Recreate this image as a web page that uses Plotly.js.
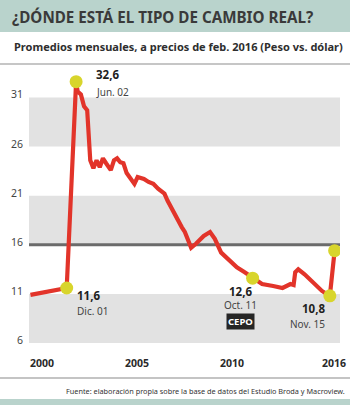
<!DOCTYPE html>
<html>
<head>
<meta charset="utf-8">
<script src="https://cdn.plot.ly/plotly-3.0.1.min.js"></script>
<style>
  html, body { margin: 0; padding: 0; background: #fff; }
  #chart { width: 350px; height: 405px; }
  #chart text { font-stretch: condensed !important; }
</style>
</head>
<body>
<div id="chart"></div>
<script>
// ---- data (monthly averages, Feb-2016 prices, peso vs dollar) ----
const dates = ['2000-01','2001-01','2001-12','2002-06','2002-07','2002-09','2002-11','2003-01','2003-02','2003-03',
  '2003-05','2003-06','2003-07','2003-09','2003-11','2004-01','2004-04','2004-06','2004-08','2004-10',
  '2004-12','2005-02','2005-05','2005-07','2005-09','2006-01','2006-04','2006-07','2006-10','2007-02',
  '2007-04','2007-08','2007-10','2008-01','2008-03','2008-05','2008-07','2008-10','2009-03','2009-07',
  '2009-10','2010-02','2010-07','2010-12','2011-05','2011-10','2012-04','2012-11','2013-05','2013-10',
  '2013-12','2014-01','2014-03','2014-07','2015-01','2015-06','2015-11','2016-02'];
const rer = [10.9,11.3,11.6,32.6,31.6,31.3,30.1,29.7,27.0,24.6,
  23.8,24.3,24.6,23.9,24.8,24.3,23.6,24.6,24.8,24.4,
  24.3,23.3,22.7,22.2,22.9,22.7,22.4,22.2,21.7,21.2,
  20.5,19.3,18.5,17.8,17.3,16.4,15.7,16.1,16.9,17.3,
  16.6,15.2,14.4,13.7,13.2,12.6,12.0,11.8,11.6,12.0,
  11.9,13.2,13.5,13.0,12.0,11.3,10.8,15.4];

const highlightDates = ['2001-12','2002-06','2011-10','2015-11','2016-02'];
const highlightDateLabels = ['Dic. 01','Jun. 02','Oct. 11','Nov. 15',''];
const cepoLabel = 'CEPO';

const yTickVals = [6, 11, 16, 21, 26, 31];
const yTickText = ['6', '11', '16', '21', '26', '31'];
const xTickVals = ['2000-01-01', '2005-01-01', '2010-01-01', '2016-01-01'];
const xTickText = ['2000', '2005', '2010', '2016'];
const referenceLevel = 16;
const bandRanges = [[6, 11], [16, 21], [26, 31]];

const titleText = '¿DÓNDE ESTÁ EL TIPO DE CAMBIO REAL?';
const subtitleText = 'Promedios mensuales, a precios de feb. 2016 (Peso vs. dólar)';
const sourceText = 'Fuente: elaboración propia sobre la base de datos del Estudio Broda y Macroview.';

// ---- layout helpers ----
const W = 350, H = 405, L = 29, R = 10, T = 66, B = 62;
const pw = W - L - R, ph = H - T - B;
const fx = px => (px - L) / pw;
const fy = py => (H - B - py) / ph;

const NARROW = '"Noto Sans", "DejaVu Sans Condensed", sans-serif';
const RED = '#e2342a', YELLOW = '#d8d52c', TEAL = '#b9d3cc';

const hlValues = highlightDates.map(d => rer[dates.indexOf(d)]);
const fmt = v => v.toFixed(1).replace('.', ',');

const traces = [
  { x: dates, y: rer, type: 'scatter', mode: 'lines',
    line: { color: RED, width: 4.2, shape: 'linear' }, hoverinfo: 'skip' },
  { x: highlightDates, y: hlValues, type: 'scatter', mode: 'markers',
    marker: { color: YELLOW, size: 13, line: { width: 0 } }, hoverinfo: 'skip' }
];

const shapes = [];
bandRanges.forEach(b => shapes.push({ type: 'rect', xref: 'paper', yref: 'y', x0: 0, x1: 1, y0: b[0], y1: b[1],
  fillcolor: '#e2e2e2', line: { width: 0 }, layer: 'below' }));
shapes.push({ type: 'line', xref: 'paper', yref: 'y', x0: 0, x1: 1, y0: referenceLevel, y1: referenceLevel,
  line: { color: '#6b6b6b', width: 3 }, layer: 'below' });
shapes.push({ type: 'rect', xref: 'paper', yref: 'paper', x0: fx(0), x1: fx(W), y0: fy(32), y1: fy(0),
  fillcolor: TEAL, line: { width: 0 } });
shapes.push({ type: 'line', xref: 'paper', yref: 'paper', x0: fx(0), x1: fx(W), y0: fy(64), y1: fy(64),
  line: { color: '#b3b3b3', width: 1.5 } });
shapes.push({ type: 'line', xref: 'paper', yref: 'paper', x0: fx(0), x1: fx(W), y0: fy(378), y1: fy(378),
  line: { color: '#c4c4c4', width: 2 } });
shapes.push({ type: 'rect', xref: 'paper', yref: 'paper', x0: fx(0), x1: fx(W), y0: fy(H), y1: fy(399),
  fillcolor: TEAL, line: { width: 0 } });

const annotations = [];
// y tick labels (placed through the y scale, nudged slightly above their level)
yTickVals.forEach((v, i) => {
  annotations.push({ x: fx(25), y: v, xref: 'paper', yref: 'y', text: yTickText[i],
    showarrow: false, xanchor: 'right', yanchor: 'middle', yshift: 3,
    font: { family: NARROW, size: 10.5, color: '#444' } });
});
// x tick labels
xTickVals.forEach((v, i) => {
  const last = i === xTickVals.length - 1;
  annotations.push({ x: v, y: fy(363), xref: 'x', yref: 'paper', text: '<b>' + xTickText[i] + '</b>',
    showarrow: false, xanchor: last ? 'center' : 'left', yanchor: 'middle', xshift: last ? 1 : -2,
    font: { family: NARROW, size: 10.5, color: '#2a2a2a' } });
});
annotations.push({ x: fx(12), y: fy(46), xref: 'paper', yref: 'paper', text: '<b>' + subtitleText + '</b>',
  showarrow: false, xanchor: 'left', yanchor: 'middle', font: { family: NARROW, size: 11, color: '#2e2e2e' } });
annotations.push({ x: fx(347), y: fy(391), xref: 'paper', yref: 'paper', text: sourceText,
  showarrow: false, xanchor: 'right', yanchor: 'middle', font: { family: NARROW, size: 7.3, color: '#333' } });

// [xanchor, xshift, value yshift, date yshift]
const labelStyle = [
  ['left', 8, -8, -23],
  ['left', 18, 7, -10],
  ['center', -12, -13, -27],
  ['right', -3, -13, -28]
];
highlightDateLabels.forEach((lab, i) => {
  if (!lab) return;
  const s = labelStyle[i];
  annotations.push({ x: highlightDates[i], y: hlValues[i], xref: 'x', yref: 'y', text: '<b>' + fmt(hlValues[i]) + '</b>',
    showarrow: false, xanchor: s[0], yanchor: 'middle', xshift: s[1], yshift: s[2],
    font: { family: NARROW, size: 11.5, color: '#1e1e1e' } });
  annotations.push({ x: highlightDates[i], y: hlValues[i], xref: 'x', yref: 'y', text: lab,
    showarrow: false, xanchor: s[0], yanchor: 'middle', xshift: s[1], yshift: s[3],
    font: { family: NARROW, size: 10, color: '#444' } });
});
{
  const i = 2;
  annotations.push({ x: highlightDates[i], y: hlValues[i], xref: 'x', yref: 'y', text: '<b>' + cepoLabel + '</b>',
    showarrow: false, xanchor: 'center', yanchor: 'middle', xshift: -12, yshift: -43,
    bgcolor: '#262626', borderpad: 1, font: { family: NARROW, size: 9.5, color: '#ffffff' } });
}

const layout = {
  width: W, height: H,
  margin: { l: L, r: R, t: T, b: B, pad: 0 },
  paper_bgcolor: '#ffffff', plot_bgcolor: '#ffffff',
  showlegend: false,
  title: { text: '<b>' + titleText + '</b>', x: 12 / W, xanchor: 'left', xref: 'container',
    y: 1 - 18 / H, yanchor: 'middle', yref: 'container',
    font: { family: NARROW, size: 15.2, color: '#3a3a3a' } },
  xaxis: { type: 'date', range: ['1999-12-04', '2016-05-15'], showticklabels: false, showgrid: false,
    zeroline: false, showline: false, ticks: '', fixedrange: true },
  yaxis: { range: [6, 34.2], showticklabels: false, showgrid: false, zeroline: false,
    showline: false, ticks: '', fixedrange: true },
  shapes: shapes,
  annotations: annotations
};

Plotly.newPlot('chart', traces, layout, { staticPlot: true, displayModeBar: false });
</script>
</body>
</html>
